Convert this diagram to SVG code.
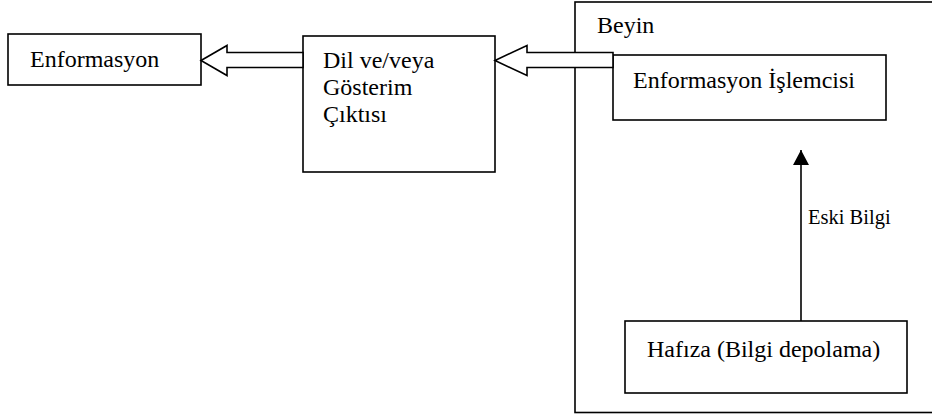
<svg xmlns="http://www.w3.org/2000/svg" width="932" height="416" viewBox="0 0 932 416">
<style>
.box{fill:#fff;stroke:#000;stroke-width:1.6}
.frame{fill:none;stroke:#000;stroke-width:1.6}
.t{font-family:'Liberation Serif',Tinos,'Times New Roman',Times,'DejaVu Serif',serif;font-size:24px;fill:#000}
.s{font-family:'Liberation Serif',Tinos,'Times New Roman',Times,'DejaVu Serif',serif;font-size:20.5px;fill:#000}
.hollow{fill:#fff;stroke:#000;stroke-width:1.6;stroke-linejoin:miter}
.line{stroke:#000;stroke-width:1.6;fill:none}
</style>
<defs>
<marker id="ah" markerWidth="16" markerHeight="16" refX="15" refY="8" orient="auto" markerUnits="userSpaceOnUse">
<path d="M0,0 L15,8 L0,16 Z" fill="#000"/>
</marker>
</defs>
<rect width="932" height="416" fill="#fff"/>
<g id="beyin">
<rect class="frame" x="575" y="2" width="362" height="410.5"/>
<text class="t" x="597" y="33">Beyin</text>
</g>
<g id="enformasyon">
<rect class="box" x="8" y="34" width="193" height="51"/>
<text class="t" x="30" y="67">Enformasyon</text>
</g>
<g id="dil">
<rect class="box" x="303" y="36" width="192" height="136"/>
<text class="t" x="323" y="68">Dil ve/veya</text>
<text class="t" x="323" y="95">Gösterim</text>
<text class="t" x="323" y="122">Çıktısı</text>
</g>
<g id="islemci">
<rect class="box" x="613" y="55" width="273" height="65"/>
<text class="t" x="633" y="88">Enformasyon İşlemcisi</text>
</g>
<g id="hafiza">
<rect class="box" x="625" y="321" width="282" height="72"/>
<text class="t" x="647" y="357">Hafıza (Bilgi depolama)</text>
</g>
<g id="connectors">
<polygon class="hollow" points="201,60.5 227,45.5 227,52.5 303,52.5 303,67.5 227,67.5 227,75.5"/>
<polygon class="hollow" points="495,60.5 527,45.5 527,52.5 613,52.5 613,67.5 527,67.5 527,75.5"/>
<line class="line" x1="801" y1="321" x2="801" y2="150" marker-end="url(#ah)"/>
<text class="s" x="808" y="224">Eski Bilgi</text>
</g>
</svg>
